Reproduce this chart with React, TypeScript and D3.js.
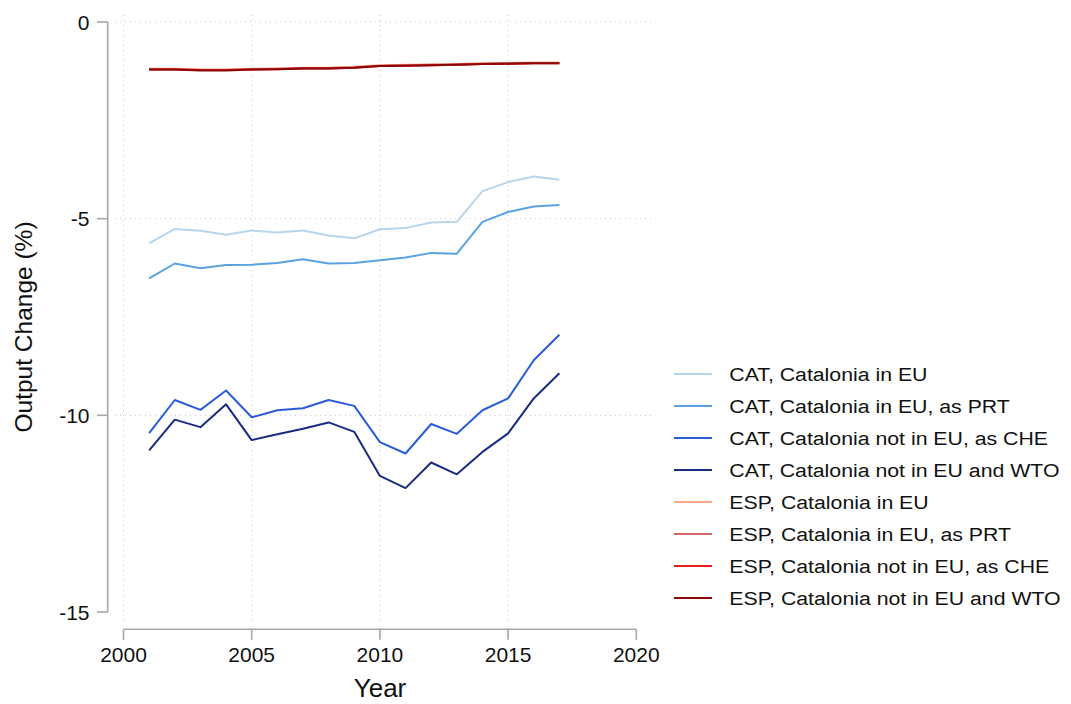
import { useEffect, useRef } from "react";
import * as d3 from "d3";

const years = d3.range(2001, 2018);

const catEU = [-5.63, -5.26, -5.31, -5.41, -5.30, -5.35, -5.30, -5.43, -5.50, -5.27, -5.24, -5.10, -5.08, -4.30, -4.07, -3.93, -4.01];
const catPRT = [-6.52, -6.14, -6.26, -6.18, -6.17, -6.13, -6.03, -6.14, -6.13, -6.06, -5.99, -5.87, -5.89, -5.08, -4.83, -4.69, -4.65];
const catCHE = [-10.45, -9.61, -9.86, -9.37, -10.05, -9.87, -9.82, -9.61, -9.76, -10.68, -10.97, -10.22, -10.47, -9.87, -9.57, -8.60, -7.95];
const catWTO = [-10.89, -10.11, -10.30, -9.72, -10.63, -10.48, -10.34, -10.18, -10.42, -11.54, -11.85, -11.20, -11.50, -10.93, -10.46, -9.57, -8.93];
const espEU = [-1.19, -1.19, -1.21, -1.21, -1.19, -1.18, -1.16, -1.16, -1.14, -1.10, -1.09, -1.08, -1.07, -1.05, -1.04, -1.03, -1.03];
const espPRT = [-1.20, -1.20, -1.22, -1.22, -1.20, -1.19, -1.17, -1.17, -1.15, -1.11, -1.10, -1.09, -1.08, -1.06, -1.05, -1.04, -1.04];
const espCHE = [-1.21, -1.21, -1.22, -1.22, -1.21, -1.20, -1.18, -1.18, -1.16, -1.12, -1.11, -1.10, -1.09, -1.07, -1.06, -1.05, -1.05];
const espWTO = [-1.21, -1.21, -1.23, -1.23, -1.21, -1.20, -1.18, -1.18, -1.16, -1.12, -1.11, -1.10, -1.09, -1.07, -1.06, -1.05, -1.05];

const seriesLabels = [
  "CAT, Catalonia in EU",
  "CAT, Catalonia in EU, as PRT",
  "CAT, Catalonia not in EU, as CHE",
  "CAT, Catalonia not in EU and WTO",
  "ESP, Catalonia in EU",
  "ESP, Catalonia in EU, as PRT",
  "ESP, Catalonia not in EU, as CHE",
  "ESP, Catalonia not in EU and WTO",
];
const seriesValues = [catEU, catPRT, catCHE, catWTO, espEU, espPRT, espCHE, espWTO];
const seriesColors = ["#b8d5ee", "#5aa2e0", "#2b5cd8", "#1b2b82", "#fca88b", "#d06868", "#ee1b1b", "#8b0808"];

const xTicks = [2000, 2005, 2010, 2015, 2020];
const yTicks = [0, -5, -10, -15];
const xGrid = [2000, 2005, 2010, 2015];
const yGrid = [0, -5, -10];

const FONT = "'Liberation Sans', Arial, sans-serif";

export default function App() {
  const svgRef = useRef<SVGSVGElement>(null);

  useEffect(() => {
    if (!svgRef.current) return;
    const svg = d3.select(svgRef.current);
    svg.selectAll("*").remove();

    const x = d3.scaleLinear().domain([2000, 2020]).range([123.5, 636.3]);
    const y = d3.scaleLinear().domain([0, -15]).range([22, 612]);

    // grid
    const grid = svg.append("g").attr("stroke", "#c8c8c8").attr("stroke-width", 1).attr("stroke-dasharray", "1 4");
    xGrid.forEach(t => {
      grid.append("line").attr("x1", x(t)).attr("x2", x(t)).attr("y1", 15).attr("y2", 624);
    });
    yGrid.forEach(t => {
      grid.append("line").attr("x1", 115).attr("x2", 652).attr("y1", y(t)).attr("y2", y(t));
    });

    // y axis
    const axisColor = "#a6a6a6";
    const axX = 107.7;
    svg.append("line").attr("x1", axX).attr("x2", axX).attr("y1", y(0)).attr("y2", y(-15))
      .attr("stroke", axisColor).attr("stroke-width", 1.6);
    yTicks.forEach(t => {
      svg.append("line").attr("x1", 97).attr("x2", axX).attr("y1", y(t)).attr("y2", y(t))
        .attr("stroke", axisColor).attr("stroke-width", 1.6);
      svg.append("text").attr("x", 89.5).attr("y", y(t)).attr("text-anchor", "end")
        .attr("dominant-baseline", "central").attr("font-size", 21).style("font-family", FONT)
        .attr("fill", "#111").text(t);
    });

    // x axis
    const axY = 629.3;
    svg.append("line").attr("x1", x(2000)).attr("x2", x(2020)).attr("y1", axY).attr("y2", axY)
      .attr("stroke", axisColor).attr("stroke-width", 1.6);
    xTicks.forEach(t => {
      svg.append("line").attr("x1", x(t)).attr("x2", x(t)).attr("y1", axY).attr("y2", axY + 10.5)
        .attr("stroke", axisColor).attr("stroke-width", 1.6);
      svg.append("text").attr("x", x(t)).attr("y", 661.7).attr("text-anchor", "middle")
        .attr("font-size", 21).style("font-family", FONT).attr("fill", "#111").text(t);
    });

    // axis titles
    svg.append("text").attr("x", 380).attr("y", 697).attr("text-anchor", "middle")
      .attr("font-size", 26).style("font-family", FONT).attr("fill", "#111").text("Year");
    svg.append("text").attr("transform", "translate(32,327) rotate(-90)").attr("text-anchor", "middle")
      .attr("font-size", 24.5).style("font-family", FONT).attr("fill", "#111").text("Output Change (%)");

    // lines
    const line = d3.line<number>().x((_, i) => x(years[i])).y(d => y(d));
    seriesValues.forEach((vals, i) => {
      svg.append("path").attr("d", line(vals) ?? "").attr("fill", "none")
        .attr("stroke", seriesColors[i]).attr("stroke-width", 2).attr("stroke-linejoin", "round");
    });

    // legend
    seriesLabels.forEach((label, i) => {
      const ly = 374 + i * 32;
      svg.append("line").attr("x1", 674).attr("x2", 712).attr("y1", ly).attr("y2", ly)
        .attr("stroke", seriesColors[i]).attr("stroke-width", 2);
      svg.append("text").attr("transform", `translate(729.3,${ly}) scale(1.12,1)`)
        .attr("dominant-baseline", "central")
        .attr("font-size", 19).style("font-family", FONT).attr("fill", "#111").text(label);
    });
  }, []);

  return (
    <svg ref={svgRef} width={1071} height={704}
      style={{ position: "absolute", left: 0, top: 0, background: "white" }} />
  );
}
